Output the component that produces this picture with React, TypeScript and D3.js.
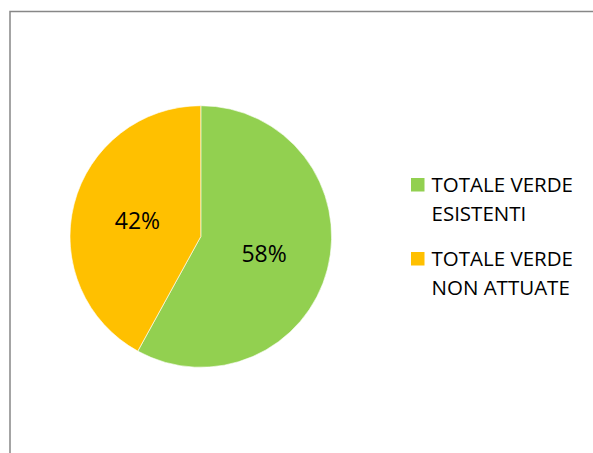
import { useMemo } from 'react';
import * as d3 from 'd3';

const categories = ['TOTALE VERDE ESISTENTI', 'TOTALE VERDE NON ATTUATE'];
const values = [58, 42];
const legendLines = [['TOTALE VERDE', 'ESISTENTI'], ['TOTALE VERDE', 'NON ATTUATE']];
const colors = ['#92D050', '#FFC000'];

const W = 593;
const H = 453;
const FONT = '"Open Sans", "Liberation Sans", sans-serif';

export default function App() {
  const cx = 200.8;
  const cy = 236.5;
  const r = 130.8;

  const arcs = useMemo(() => {
    const pie = d3.pie<number>().sort(null).value((d) => d)(values);
    return pie;
  }, []);
  const arc = d3.arc<d3.PieArcDatum<number>>().innerRadius(0).outerRadius(r);
  const labelArc = d3.arc<d3.PieArcDatum<number>>().innerRadius(r * 0.5).outerRadius(r * 0.5);
  const total = d3.sum(values);

  return (
    <svg width={W} height={H} style={{ position: 'absolute', left: 0, top: 0, background: '#fff' }}>
      {/* chart frame, clipped on the right and bottom */}
      <rect x={10} y={11.5} width={W + 20} height={H + 20} fill="none" stroke="#878787" strokeWidth={1.5} />
      <g transform={`translate(${cx},${cy})`}>
        {arcs.map((a, i) => (
          <path key={categories[i]} d={arc(a) ?? ''} fill={colors[i]} stroke="#fff" strokeWidth={0.6} />
        ))}
        {arcs.map((a, i) => {
          const [lx, ly] = labelArc.centroid(a);
          return (
            <text key={'l' + i} x={lx} y={ly} textAnchor="middle" dominantBaseline="central"
              fontFamily={FONT} fontSize={23} fill="#000">
              {`${Math.round((a.data / total) * 100)}%`}
            </text>
          );
        })}
      </g>
      {legendLines.map((lines, i) => {
        const base = 192 + i * 74;
        return (
          <g key={'lg' + i}>
            <rect x={411} y={base - 14} width={13.5} height={13.5} fill={colors[i]} />
            {lines.map((t, j) => (
              <text key={t + j} x={431.5} y={base + j * 29} fontFamily={FONT} fontSize={20.5} fill="#000">
                {t}
              </text>
            ))}
          </g>
        );
      })}
    </svg>
  );
}
